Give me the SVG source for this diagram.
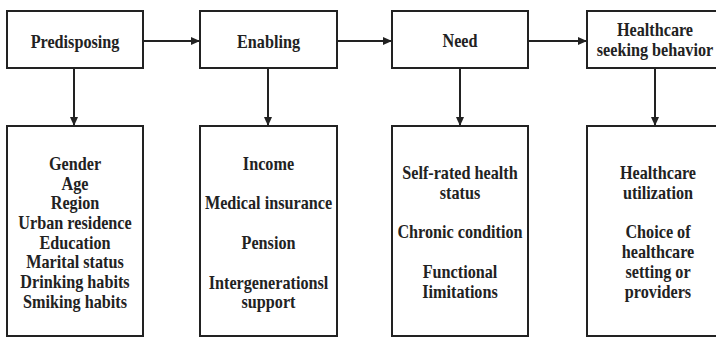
<svg xmlns="http://www.w3.org/2000/svg" width="716" height="338" viewBox="0 0 716 338">
  <style>
    .box { fill: #ffffff; stroke: #222222; stroke-width: 2; }
    .lbl { font-family: "Liberation Serif", "Times New Roman", serif; font-weight: bold; font-size: 16.2px; fill: #222222; text-anchor: middle; }
    .link { stroke: #222222; stroke-width: 2; fill: none; marker-end: url(#arrow); }
  </style>
  <defs>
    <marker id="arrow" markerUnits="userSpaceOnUse" markerWidth="10" markerHeight="10" refX="9" refY="4" orient="auto">
      <path d="M0,0 L9,4 L0,8 Z" fill="#222222"/>
    </marker>
  </defs>
  <rect width="716" height="338" fill="#ffffff"/>

  <g id="connectors">
    <line class="link" x1="143" y1="41" x2="200" y2="41"/>
    <line class="link" x1="337" y1="41" x2="392" y2="41"/>
    <line class="link" x1="528" y1="41" x2="587" y2="41"/>
    <line class="link" x1="74" y1="68" x2="74" y2="126"/>
    <line class="link" x1="268" y1="68" x2="268" y2="126"/>
    <line class="link" x1="460" y1="68" x2="460" y2="126"/>
    <line class="link" x1="655" y1="68" x2="655" y2="126"/>
  </g>

  <!-- labels are set in a slightly tall serif: each text is stretched 1.18x vertically about its baseline -->
  <g id="predisposing">
    <rect class="box" x="7" y="11" width="136" height="57"/>
    <text class="lbl" transform="translate(75,47.5) scale(1,1.18)">Predisposing</text>
  </g>
  <g id="enabling">
    <rect class="box" x="200" y="11" width="137" height="57"/>
    <text class="lbl" transform="translate(268.5,47.5) scale(1,1.18)">Enabling</text>
  </g>
  <g id="need">
    <rect class="box" x="392" y="11" width="136" height="57"/>
    <text class="lbl" transform="translate(460,47) scale(1,1.18)">Need</text>
  </g>
  <g id="seeking">
    <rect class="box" x="587" y="11" width="140" height="57"/>
    <text class="lbl" transform="translate(655,36) scale(1,1.18)">Healthcare</text>
    <text class="lbl" transform="translate(655,56) scale(1,1.18)">seeking behavior</text>
  </g>

  <g id="predisposing-factors">
    <rect class="box" x="7" y="126" width="136" height="210"/>
    <text class="lbl" transform="translate(75,170) scale(1,1.18)">Gender</text>
    <text class="lbl" transform="translate(75,189.5) scale(1,1.18)">Age</text>
    <text class="lbl" transform="translate(75,209) scale(1,1.18)">Region</text>
    <text class="lbl" transform="translate(75,229) scale(1,1.18)">Urban residence</text>
    <text class="lbl" transform="translate(75,248.5) scale(1,1.18)">Education</text>
    <text class="lbl" transform="translate(75,268) scale(1,1.18)">Marital status</text>
    <text class="lbl" transform="translate(75,288) scale(1,1.18)">Drinking habits</text>
    <text class="lbl" transform="translate(75,307.5) scale(1,1.18)">Smiking habits</text>
  </g>
  <g id="enabling-factors">
    <rect class="box" x="200" y="126" width="137" height="210"/>
    <text class="lbl" transform="translate(268.5,170) scale(1,1.18)">Income</text>
    <text class="lbl" transform="translate(268.5,209) scale(1,1.18)">Medical insurance</text>
    <text class="lbl" transform="translate(268.5,248.5) scale(1,1.18)">Pension</text>
    <text class="lbl" transform="translate(268.5,288.5) scale(1,1.18)">Intergenerationsl</text>
    <text class="lbl" transform="translate(268.5,308) scale(1,1.18)">support</text>
  </g>
  <g id="need-factors">
    <rect class="box" x="392" y="126" width="136" height="210"/>
    <text class="lbl" transform="translate(460,178.5) scale(1,1.18)">Self-rated health</text>
    <text class="lbl" transform="translate(460,198.5) scale(1,1.18)">status</text>
    <text class="lbl" transform="translate(460,238) scale(1,1.18)">Chronic condition</text>
    <text class="lbl" transform="translate(460,278) scale(1,1.18)">Functional</text>
    <text class="lbl" transform="translate(460,297.5) scale(1,1.18)">Iimitations</text>
  </g>
  <g id="seeking-outcomes">
    <rect class="box" x="587" y="126" width="140" height="210"/>
    <text class="lbl" transform="translate(658,178.5) scale(1,1.18)">Healthcare</text>
    <text class="lbl" transform="translate(658,198.5) scale(1,1.18)">utilization</text>
    <text class="lbl" transform="translate(658,238) scale(1,1.18)">Choice of</text>
    <text class="lbl" transform="translate(658,258) scale(1,1.18)">healthcare</text>
    <text class="lbl" transform="translate(658,278) scale(1,1.18)">setting or</text>
    <text class="lbl" transform="translate(658,297.5) scale(1,1.18)">providers</text>
  </g>
</svg>
